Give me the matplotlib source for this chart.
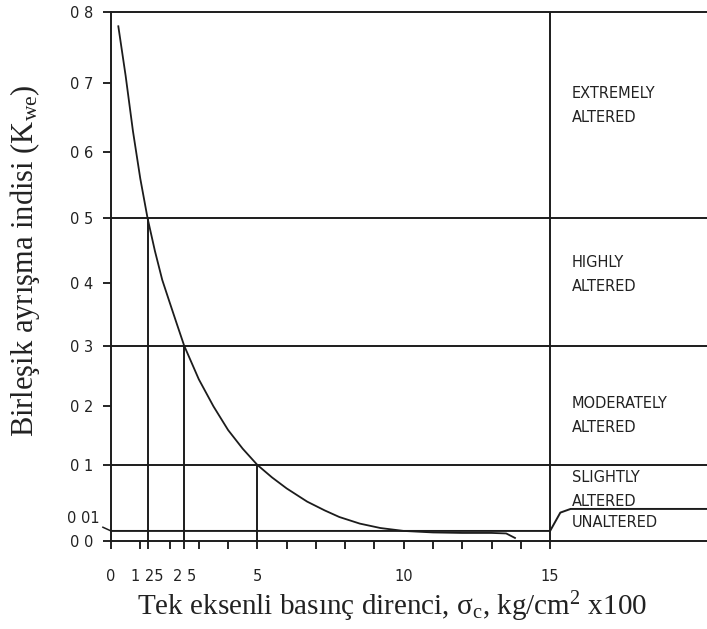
import matplotlib
matplotlib.use("Agg")
import matplotlib.pyplot as plt
import numpy as np

# curve
sigma = [0.25, 0.5, 0.75, 1.0, 1.25, 1.5, 1.75, 2.0, 2.25, 2.5, 3.0, 3.5, 4.0, 4.5,
         5.0, 5.5, 6.0, 6.7, 7.3, 7.8, 8.5, 9.2, 10.0, 11.0, 12.0, 13.0, 13.5, 13.8]
kwe = [0.78, 0.71, 0.63, 0.56, 0.5, 0.45, 0.405, 0.37, 0.335, 0.3, 0.245, 0.2, 0.16,
       0.128, 0.1, 0.083, 0.068, 0.05, 0.038, 0.029, 0.02, 0.014, 0.01, 0.0085,
       0.008, 0.008, 0.0075, 0.003]

# class limits
limits = [0.1, 0.3, 0.5]
guide_x = [5, 2.5, 1.25]
unaltered_x = [0, 15, 15.35, 15.7, 21]
unaltered_y = [0.01, 0.01, 0.035, 0.04, 0.04]

classes = ["EXTREMELY\nALTERED", "HIGHLY\nALTERED", "MODERATELY\nALTERED",
           "SLIGHTLY\nALTERED", "UNALTERED"]
class_y = [0.668, 0.414, 0.184, 0.067, 0.022]

yticks = [0.0, 0.1, 0.2, 0.3, 0.4, 0.5, 0.6, 0.7, 0.8]
ytick_labels = ["0 0", "0 1", "0 2", "0 3", "0 4", "0 5", "0 6", "0 7", "0 8"]
small_tick = 0.01
small_label = "0 01"
xticks = [0, 1.25, 2.5, 5, 10, 15]
xtick_labels = ["0", "1 25", "2 5", "5", "10", "15"]
xminor = [1, 2, 3, 4, 6, 7, 8, 9, 11, 12, 13, 14]


# the original y axis is stretched near zero and slightly uneven above 0.1
def fwd(v):
    v = np.asarray(v, float)
    d = v - 0.1
    return np.where(v < 0.01, v * 1000,
                    np.where(v < 0.1, 10 + (v - 0.01) * 733.3,
                             76 + 575.7 * d + 102 * d * d))


def inv(p):
    p = np.asarray(p, float)
    q = np.maximum(p - 76, 0)
    d = (-575.7 + np.sqrt(575.7 ** 2 + 4 * 102 * q)) / (2 * 102)
    return np.where(p < 10, p / 1000,
                    np.where(p < 76, 0.01 + (p - 10) / 733.3, 0.1 + d))


plt.rcParams["mathtext.fontset"] = "custom"
plt.rcParams["mathtext.rm"] = "Liberation Serif"
plt.rcParams["mathtext.it"] = "Liberation Serif:italic"

lc = "#1c1c1c"
tc = "#222222"
lw = 1.4

fig = plt.figure(figsize=(7.07, 6.29), dpi=100)
ax = fig.add_axes([0.157, 0.14, 0.843, 0.841])
ax.set_yscale("function", functions=(fwd, inv))
ax.set_xlim(0, 20.36)
ax.set_ylim(0, 0.8)

for y in limits:
    ax.axhline(y, color=lc, lw=lw)
ax.vlines(guide_x, 0, limits, color=lc, lw=lw)
ax.axvline(15, color=lc, lw=lw)
ax.plot(unaltered_x, unaltered_y, color=lc, lw=lw)
ax.plot(sigma, kwe, color=lc, lw=1.3)

for label, y in zip(classes, class_y):
    ax.text(15.75, y, label, fontsize=10.5, family="DejaVu Sans", color=tc,
            va="center", ha="left", linespacing=1.75)

ax.set_yticks(yticks)
ax.set_yticklabels(ytick_labels)
ax.set_xticks(xticks)
ax.set_xticklabels(xtick_labels)
ax.set_xticks(xminor, minor=True)
ax.tick_params(axis="y", direction="out", length=6, width=1.2, pad=7, labelsize=10.5)
ax.tick_params(axis="x", which="both", direction="out", length=6, width=1.2, pad=14,
               labelsize=10.5)
for t in ax.get_xticklabels() + ax.get_yticklabels():
    t.set_family("DejaVu Sans")
    t.set_color(tc)

# 0.01 label sits above the 0.0 one, with a short leader
ax.annotate(small_label, xy=(0, small_tick), xycoords=("axes fraction", "data"),
            xytext=(-8, 9), textcoords="offset points", ha="right", va="center",
            fontsize=10.5, family="DejaVu Sans", color=tc, annotation_clip=False,
            arrowprops=dict(arrowstyle="-", color=lc, lw=1.1, shrinkA=0, shrinkB=0))

for s in ["left", "bottom", "top"]:
    ax.spines[s].set_linewidth(lw)
    ax.spines[s].set_color(lc)
ax.spines["right"].set_visible(False)

ax.set_ylabel("Birleşik ayrışma indisi (K$_\\mathrm{we}$)", fontsize=22,
              family="Liberation Serif", color=tc)
ax.yaxis.set_label_coords(-0.115, 0.53)
ax.set_xlabel("Tek eksenli basınç direnci, σ$_\\mathrm{c}$, kg/cm$^\\mathrm{2}$ x100",
              fontsize=21, family="Liberation Serif", color=tc)
ax.xaxis.set_label_coords(0.471, -0.092)

fig.savefig("out.png", dpi=100)
